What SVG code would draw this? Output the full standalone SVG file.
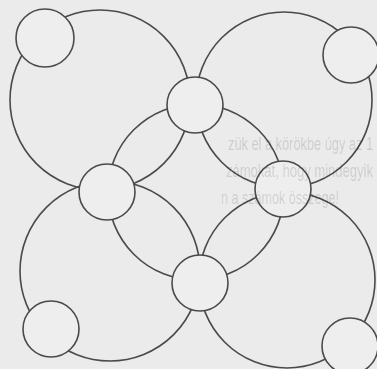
<svg xmlns="http://www.w3.org/2000/svg" width="377" height="369" viewBox="0 0 377 369">
  <style>
    .big { fill: none; stroke: #4a4a4a; stroke-width: 1.6; }
    .node { fill: #eeeeee; stroke: #4a4a4a; stroke-width: 1.6; }
    .bleed { font-family: "Liberation Sans", Arial, sans-serif; font-size: 19px; fill: #000000; fill-opacity: 0.14; }
  </style>
  <rect x="0" y="0" width="377" height="369" fill="#ebebeb"/>
  <g id="connectors">
    <circle class="big" cx="100" cy="100" r="90"/>
    <circle class="big" cx="284" cy="100" r="88"/>
    <circle class="big" cx="110" cy="271" r="90"/>
    <circle class="big" cx="287" cy="280" r="88"/>
    <circle class="big" cx="196" cy="192" r="88"/>
  </g>
  <g id="node-top-left"><circle class="node" cx="45" cy="38" r="29"/></g>
  <g id="node-top-right"><circle class="node" cx="351" cy="55" r="28"/></g>
  <g id="node-bottom-left"><circle class="node" cx="51" cy="329" r="28"/></g>
  <g id="node-bottom-right"><circle class="node" cx="350" cy="346" r="28"/></g>
  <g id="node-top"><circle class="node" cx="195" cy="105" r="28"/></g>
  <g id="node-left"><circle class="node" cx="107" cy="192" r="28"/></g>
  <g id="node-right"><circle class="node" cx="283" cy="189" r="28"/></g>
  <g id="node-bottom"><circle class="node" cx="200" cy="283" r="28"/></g>
  <g id="bleed-text">
    <text class="bleed" x="228" y="150" textLength="145" lengthAdjust="spacingAndGlyphs">zük el a körökbe úgy az 1</text>
    <text class="bleed" x="226" y="177" textLength="147" lengthAdjust="spacingAndGlyphs">zámokat, hogy mindegyik</text>
    <text class="bleed" x="221" y="204" textLength="118" lengthAdjust="spacingAndGlyphs">n a számok összege!</text>
  </g>
</svg>
